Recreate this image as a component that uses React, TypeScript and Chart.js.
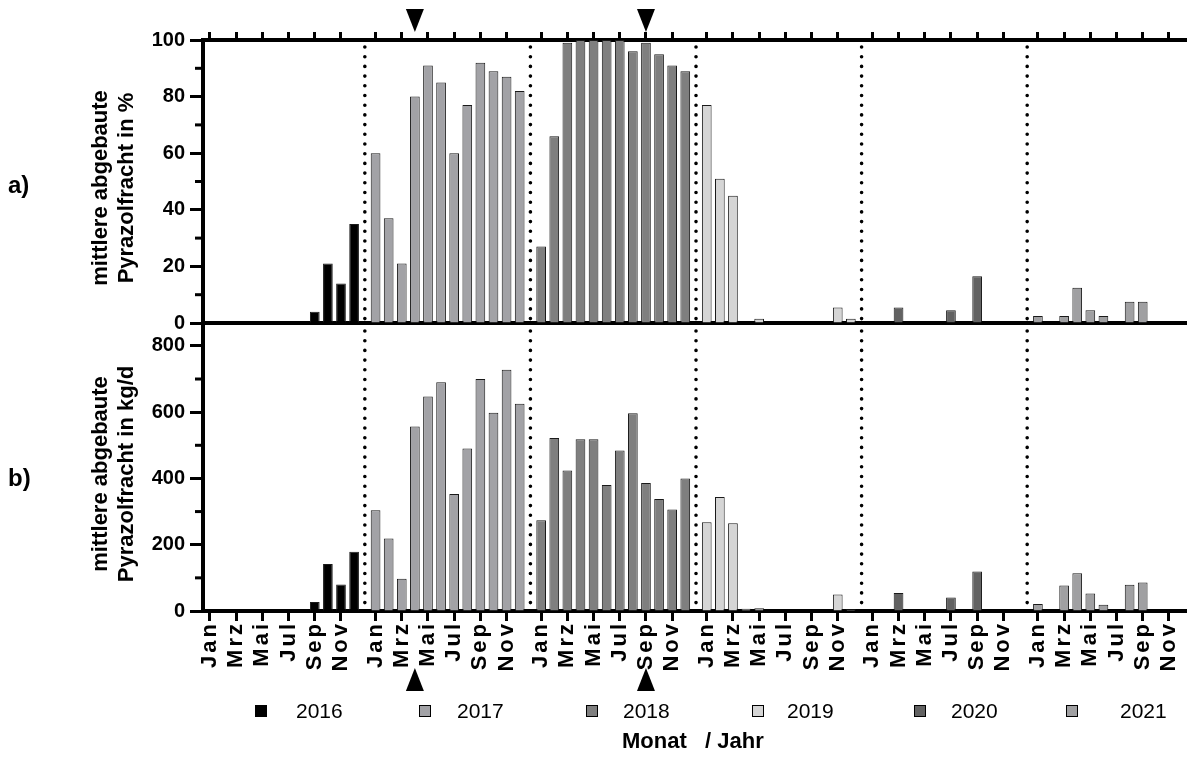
import React, { useEffect, useRef } from 'react';
import { Chart, registerables } from 'chart.js';

Chart.register(...registerables);

const FONT = '"Liberation Sans", Arial, Helvetica, sans-serif';

// ---- data ----
const YEARS = ['2016', '2017', '2018', '2019', '2020', '2021'];
const YEAR_COLORS = ['#000000', '#a2a2a6', '#7f7f7f', '#d5d5d5', '#626262', '#a0a0a2'];
const MONTH_TICK_LABELS = ['Jan', 'Mrz', 'Mai', 'Jul', 'Sep', 'Nov'];
const MONTH_TICK_INDEX = [0, 2, 4, 6, 8, 10];

const PCT_2016 = [0, 0, 0, 0, 0, 0, 0, 0, 4, 21, 14, 35];
const PCT_2017 = [60, 37, 21, 80, 91, 85, 60, 77, 92, 89, 87, 82];
const PCT_2018 = [27, 66, 99, 100, 100, 100, 100, 96, 99, 95, 91, 89];
const PCT_2019 = [77, 51, 45, 0, 1.5, 0, 0, 0, 0, 0, 5.5, 1.5];
const PCT_2020 = [0, 0, 5.5, 0, 0, 0, 4.5, 0, 16.5, 0, 0, 0];
const PCT_2021 = [2.5, 0, 2.5, 12.5, 4.5, 2.5, 0, 7.5, 7.5, 0, 0, 0];

const KG_2016 = [0, 0, 0, 0, 0, 0, 0, 0, 27, 142, 80, 179];
const KG_2017 = [304, 219, 97, 557, 647, 690, 353, 490, 700, 598, 728, 625];
const KG_2018 = [274, 522, 424, 518, 518, 380, 484, 597, 386, 338, 306, 400];
const KG_2019 = [268, 344, 265, 7, 8, 0, 0, 0, 0, 0, 50, 5];
const KG_2020 = [0, 0, 54, 0, 0, 0, 41, 0, 119, 0, 0, 0];
const KG_2021 = [21, 0, 77, 114, 53, 19, 0, 79, 86, 0, 0, 0];

const PCT_SERIES = [PCT_2016, PCT_2017, PCT_2018, PCT_2019, PCT_2020, PCT_2021];
const KG_SERIES = [KG_2016, KG_2017, KG_2018, KG_2019, KG_2020, KG_2021];

const PCT_TICKS = [0, 20, 40, 60, 80, 100];
const PCT_MINOR = [10, 30, 50, 70, 90];
const KG_TICKS = [0, 200, 400, 600, 800];
const KG_MINOR = [100, 300, 500, 700];

// marked months (year index, month index): Apr 2017, Sep 2018
const MARKERS = [
  { year: 1, month: 3 },
  { year: 2, month: 8 },
];

const TITLE_A = ['mittlere abgebaute', 'Pyrazolfracht in %'];
const TITLE_B = ['mittlere abgebaute', 'Pyrazolfracht in kg/d'];
const X_TITLE = 'Monat   / Jahr';

// ---- layout ----
const W = 1187;
const AXIS_LEFT = 203;
const YEAR_SPAN = 12.64; // 12 months + gap between year groups
const X_MIN = -0.534;
const X_MAX = 74.58;
const LEGEND_SQ_X = [255, 419, 586, 752, 914, 1066];
const LEGEND_TX_X = [296, 457, 623, 787, 951, 1120];

const pos = (y: number, m: number) => y * YEAR_SPAN + m;

const TICK_POS: number[] = [];
YEARS.forEach((_, yi) => MONTH_TICK_INDEX.forEach((m) => TICK_POS.push(pos(yi, m))));

function makeDatasets(series: number[][]) {
  return YEARS.map((yr, yi) => ({
    label: yr,
    data: series[yi].map((v, m) => ({ x: pos(yi, m), y: v })),
    backgroundColor: YEAR_COLORS[yi],
    borderColor: '#1a1a1a',
    borderWidth: 1,
    grouped: false,
    categoryPercentage: 1,
    barPercentage: 0.74,
  }));
}

function overlayPlugin(minor: number[], markerDir: 'down' | 'up') {
  return {
    id: 'overlay' + markerDir,
    afterDraw(chart: any) {
      const { ctx, chartArea } = chart;
      const xs = chart.scales.x;
      const ys = chart.scales.y;
      ctx.save();
      ctx.strokeStyle = '#000';
      ctx.lineWidth = 3;
      minor.forEach((v) => {
        const py = ys.getPixelForValue(v);
        ctx.beginPath();
        ctx.moveTo(chartArea.left - 8, py);
        ctx.lineTo(chartArea.left, py);
        ctx.stroke();
      });
      ctx.setLineDash([0, 9.7]);
      ctx.lineCap = 'round';
      ctx.lineWidth = 3.6;
      for (let y = 0; y < YEARS.length - 1; y++) {
        const px = xs.getPixelForValue((pos(y, 11) + pos(y + 1, 0)) / 2);
        ctx.beginPath();
        ctx.moveTo(px, chartArea.top + 7);
        ctx.lineTo(px, chartArea.bottom);
        ctx.stroke();
      }
      ctx.setLineDash([]);
      ctx.fillStyle = '#000';
      MARKERS.forEach((mk) => {
        const px = xs.getPixelForValue(pos(mk.year, mk.month));
        ctx.beginPath();
        if (markerDir === 'down') {
          const base = chartArea.top - 31;
          const apex = chartArea.top - 8;
          ctx.moveTo(px - 9, base);
          ctx.lineTo(px + 9, base);
          ctx.lineTo(px, apex);
        } else {
          const apex = chartArea.bottom + 57;
          const base = chartArea.bottom + 80;
          ctx.moveTo(px - 9, base);
          ctx.lineTo(px + 9, base);
          ctx.lineTo(px, apex);
        }
        ctx.closePath();
        ctx.fill();
      });
      ctx.restore();
    },
  };
}

const letterSpacingPlugin = {
  id: 'xLetterSpacing',
  afterLayout(chart: any) {
    const sc = chart.scales.x;
    if (!sc || sc.__ls) return;
    const orig = sc.drawLabels;
    sc.drawLabels = function (area: any) {
      const ctx = this.ctx;
      ctx.save();
      ctx.letterSpacing = '3px';
      orig.call(this, area);
      ctx.restore();
    };
    sc.__ls = true;
  },
};

function yAxis(min: number, max: number, ticks: number[]) {
  return {
    min,
    max,
    afterBuildTicks: (s: any) => {
      s.ticks = ticks.map((v) => ({ value: v }));
    },
    afterFit: (s: any) => {
      s.width = AXIS_LEFT;
    },
    ticks: {
      font: { family: FONT, size: 20, weight: 'bold' },
      color: '#000',
      padding: 5,
    },
    grid: { drawOnChartArea: false, tickLength: 13, tickWidth: 3, tickColor: '#000' },
    border: { display: true, width: 4, color: '#000' },
  };
}

function xAxis(position: string, height: number, withLabels: boolean, tickLength: number) {
  return {
    type: 'linear',
    position,
    min: X_MIN,
    max: X_MAX,
    offset: false,
    afterBuildTicks: (s: any) => {
      s.ticks = TICK_POS.map((v) => ({ value: v }));
    },
    afterFit: (s: any) => {
      s.height = height;
      s.paddingLeft = 0;
      s.paddingRight = 0;
    },
    ticks: withLabels
      ? {
          autoSkip: false,
          minRotation: 90,
          maxRotation: 90,
          padding: 0,
          color: '#000',
          font: { family: FONT, size: 22, weight: 'bold' },
          callback: (_v: any, i: number) => MONTH_TICK_LABELS[i % MONTH_TICK_LABELS.length],
        }
      : { display: false },
    grid: { offset: false, drawOnChartArea: false, drawTicks: true, tickLength, tickWidth: 3, tickColor: '#000' },
    border: { display: true, width: 4, color: '#000' },
  };
}

export default function App() {
  const refA = useRef<HTMLCanvasElement>(null);
  const refB = useRef<HTMLCanvasElement>(null);

  useEffect(() => {
    document.body.style.margin = '0';
    const common = {
      responsive: false,
      animation: false,
      devicePixelRatio: 1,
      plugins: { legend: { display: false }, tooltip: { enabled: false } },
    };
    const a = new Chart(refA.current as HTMLCanvasElement, {
      type: 'bar',
      data: { datasets: makeDatasets(PCT_SERIES) as any },
      options: {
        ...common,
        layout: { padding: 0 },
        scales: {
          x: xAxis('top', 40, false, 8),
          x2: {
            type: 'linear',
            position: 'bottom',
            min: 0,
            max: 1,
            offset: false,
            afterFit: (s: any) => {
              s.height = 16;
              s.paddingLeft = 0;
              s.paddingRight = 0;
            },
            ticks: { display: false },
            grid: { drawOnChartArea: false, drawTicks: false },
            border: { display: true, width: 4, color: '#000' },
          },
          y: yAxis(0, 100, PCT_TICKS),
        },
      } as any,
      plugins: [overlayPlugin(PCT_MINOR, 'down')],
    });
    const b = new Chart(refB.current as HTMLCanvasElement, {
      type: 'bar',
      data: { datasets: makeDatasets(KG_SERIES) as any },
      options: {
        ...common,
        layout: { padding: { top: 24 } },
        scales: {
          x: xAxis('bottom', 146, true, 10),
          y: yAxis(0, 866, KG_TICKS),
        },
      } as any,
      plugins: [overlayPlugin(KG_MINOR, 'up'), letterSpacingPlugin],
    });
    return () => {
      a.destroy();
      b.destroy();
    };
  }, []);

  const txt: React.CSSProperties = {
    position: 'absolute',
    fontFamily: FONT,
    color: '#000',
    lineHeight: 1,
    whiteSpace: 'pre',
    margin: 0,
  };
  const yTitle = (lines: string[], cx: number, cy: number): React.ReactNode => (
    <div
      style={{
        ...txt,
        left: cx,
        top: cy,
        fontSize: 22,
        fontWeight: 'bold',
        lineHeight: '26.4px',
        textAlign: 'center',
        transform: 'translate(-50%, -50%) rotate(-90deg)',
      }}
    >
      {lines.join('\n')}
    </div>
  );

  return (
    <div style={{ position: 'absolute', left: 0, top: 0, width: W, height: 757, background: '#fff', overflow: 'hidden' }}>
      <canvas ref={refA} width={W} height={340} style={{ position: 'absolute', left: 0, top: 0, width: W, height: 340 }} />
      <canvas ref={refB} width={W} height={457} style={{ position: 'absolute', left: 0, top: 300, width: W, height: 457 }} />
      <div style={{ ...txt, left: 8, top: 173, fontSize: 24, fontWeight: 'bold' }}>a)</div>
      <div style={{ ...txt, left: 8, top: 466, fontSize: 24, fontWeight: 'bold' }}>b)</div>
      {yTitle(TITLE_A, 113, 188)}
      {yTitle(TITLE_B, 113, 474)}
      {YEARS.map((yr, i) => (
        <React.Fragment key={yr}>
          <div
            style={{
              position: 'absolute',
              left: LEGEND_SQ_X[i],
              top: 705,
              width: 10,
              height: 10,
              background: YEAR_COLORS[i],
              border: '1px solid #000',
            }}
          />
          <div style={{ ...txt, left: LEGEND_TX_X[i], top: 700, fontSize: 21 }}>{yr}</div>
        </React.Fragment>
      ))}
      <div style={{ ...txt, left: 622, top: 730, fontSize: 22, fontWeight: 'bold' }}>{X_TITLE}</div>
    </div>
  );
}
